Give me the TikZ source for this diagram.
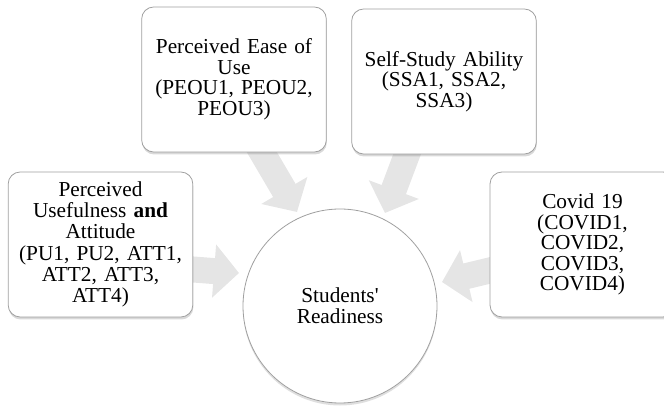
\documentclass[tikz,border=0pt]{standalone}
\usepackage{fontspec}
\setmainfont{Liberation Serif}
\usetikzlibrary{positioning,shadows,arrows.meta,backgrounds}
\definecolor{sa-line}{RGB}{160,160,160}
\definecolor{sa-arrow}{RGB}{229,229,229}

\begin{document}
\begin{tikzpicture}[x=1pt,y=1pt,
    factor/.style={draw=sa-line, line width=0.8pt, fill=white, rounded corners=12pt,
      minimum width=184pt, minimum height=145pt, text width=178pt, align=center,
      font=\fontsize{21.3}{20.5}\selectfont,
      drop shadow={shadow xshift=0.5pt, shadow yshift=-2.5pt, opacity=0.3}},
    hub/.style={circle, draw=sa-line, line width=0.8pt, fill=white,
      minimum size=194pt, align=center, font=\fontsize{21.3}{21}\selectfont,
      drop shadow={shadow xshift=0pt, shadow yshift=-2.5pt, opacity=0.25}},
    feed/.style={line width=26pt, draw=sa-arrow, shorten <=-10pt,
      -{Triangle[length=25pt,width=52pt]}}]
    \useasboundingbox (0,0) rectangle (664,407);
    \clip (0,0) rectangle (664,407);

    % the four factors and the readiness hub
    \node[hub] (sr) at (340,101) {Students\textquotesingle\\Readiness};
    \node[factor, font=\fontsize{21.3}{21.3}\selectfont] (pu) at (100.5,162.5) {Perceived\\Usefulness \textbf{and}\\Attitude\\(PU1, PU2, ATT1,\\ATT2, ATT3,\\ATT4)};
    \node[factor] (peou) at (234,327.5) {Perceived Ease of\\Use\\(PEOU1, PEOU2,\\PEOU3)};
    \node[factor] (ssa) at (444,325.5) {Self-Study Ability\\(SSA1, SSA2,\\SSA3)};
    \node[factor, minimum width=185pt] (covid) at (582.5,162.5) {Covid 19\\(COVID1,\\COVID2,\\COVID3,\\COVID4)};

    \coordinate (tippu) at (239,134);
    \coordinate (tippeou) at (297,195);
    \coordinate (tipssa) at (385,194);
    \coordinate (tipcovid) at (442,125);

    % block arrows sit under the boxes
    \begin{scope}[on background layer]
      \draw[feed] ([yshift=-25pt]pu.east) -- (tippu);
      \draw[feed] ([xshift=28pt]peou.south) -- (tippeou);
      \draw[feed] ([xshift=-37pt]ssa.south) -- (tipssa);
      \draw[feed] ([yshift=-26pt]covid.west) -- (tipcovid);
    \end{scope}
\end{tikzpicture}
\end{document}
